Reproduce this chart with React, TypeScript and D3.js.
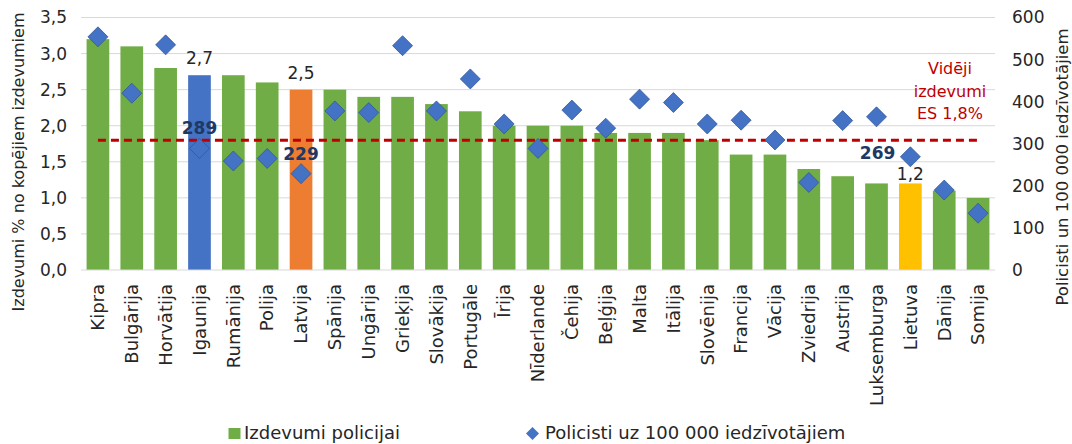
import React from "react";
import * as d3 from "d3";

const countries = ["Kipra","Bulgārija","Horvātija","Igaunija","Rumānija","Polija","Latvija","Spānija","Ungārija","Grieķija","Slovākija","Portugāle","Īrija","Nīderlande","Čehija","Beļģija","Malta","Itālija","Slovēnija","Francija","Vācija","Zviedrija","Austrija","Luksemburga","Lietuva","Dānija","Somija"];
const spending = [3.2,3.1,2.8,2.7,2.7,2.6,2.5,2.5,2.4,2.4,2.3,2.2,2.0,2.0,2.0,1.9,1.9,1.9,1.8,1.6,1.6,1.4,1.3,1.2,1.2,1.1,1.0];
const police = [554,420,535,289,259,265,229,378,374,533,378,454,347,289,380,337,406,398,347,356,309,208,355,364,269,190,135];
const leftTicks = [0,0.5,1,1.5,2,2.5,3,3.5];
const rightTicks = [0,100,200,300,400,500,600];
const euAverage = 1.8;
const barLabels: Record<string, string> = { Igaunija: "2,7", Latvija: "2,5", Lietuva: "1,2" };
const pointLabels: Record<string, string> = { Igaunija: "289", Latvija: "229", Lietuva: "269" };
const barColors: Record<string, string> = { Igaunija: "#4472C4", Latvija: "#ED7D31", Lietuva: "#FFC000" };

const FONT = "'DejaVu Sans', Verdana, sans-serif";

export default function App() {
  const W = 1072, H = 444;
  const left = 81, right = 995, top = 17.5, bottom = 270;
  const x = d3.scaleBand<string>().domain(countries).range([left, right]).paddingInner(0.33).paddingOuter(0.165);
  const yL = d3.scaleLinear().domain([0, 3.5]).range([bottom, top]);
  const yR = d3.scaleLinear().domain([0, 600]).range([bottom, top]);
  const fmt = (v: number) => d3.format(".1f")(v).replace(".", ",");
  const cx = (c: string) => (x(c) as number) + x.bandwidth() / 2;
  const diamond = (px: number, py: number, r: number) => `M${px},${py - r}L${px + r},${py}L${px},${py + r}L${px - r},${py}Z`;
  const avgY = yL(euAverage);

  return (
    <svg width={W} height={H} style={{ position: "absolute", left: 0, top: 0, background: "#fff" }} fontFamily={FONT}>
      {leftTicks.map((t) => (
        <g key={t}>
          {t > 0 && <line x1={left} x2={right} y1={yL(t)} y2={yL(t)} stroke="#D9D9D9" strokeWidth={1} />}
          <text x={67} y={yL(t)} dy="0.35em" textAnchor="end" fontSize={17} fill="#262626">{fmt(t)}</text>
        </g>
      ))}
      {rightTicks.map((t) => (
        <text key={t} x={1012} y={yR(t)} dy="0.35em" textAnchor="start" fontSize={17} fill="#262626">{t}</text>
      ))}
      {countries.map((c, i) => (
        <rect key={c} x={x(c)} y={yL(spending[i])} width={x.bandwidth()} height={bottom - yL(spending[i])} fill={barColors[c] || "#70AD47"} />
      ))}
      <line x1={left} x2={right} y1={bottom} y2={bottom} stroke="#D9D9D9" strokeWidth={1} />
      <line x1={cx(countries[0])} x2={cx(countries[countries.length - 1])} y1={avgY} y2={avgY} stroke="#C00000" strokeWidth={3} strokeDasharray="8,5" />
      {countries.map((c, i) => (
        <path key={c} d={diamond(cx(c), yR(police[i]), 10)} fill="#4472C4" stroke="#2F5597" strokeWidth={0.75} />
      ))}
      {countries.map((c, i) => barLabels[c] ? (
        <text key={c} x={cx(c)} y={c === "Lietuva" ? yL(spending[i]) - 3 : yL(spending[i]) - 11} textAnchor="middle" fontSize={17} fill="#262626">{barLabels[c]}</text>
      ) : null)}
      {countries.map((c, i) => pointLabels[c] ? (
        c === "Lietuva" ? (
          <text key={c} x={cx(c) - 15} y={yR(police[i]) + 2} textAnchor="end" fontSize={17} fontWeight="bold" fill="#203864">{pointLabels[c]}</text>
        ) : (
          <text key={c} x={cx(c)} y={yR(police[i]) - 14} textAnchor="middle" fontSize={17} fontWeight="bold" fill="#203864">{pointLabels[c]}</text>
        )
      ) : null)}
      <text textAnchor="middle" fontSize={16} fill="#C00000">
        <tspan x={950} y={74}>Vidēji</tspan>
        <tspan x={950} y={96.5}>izdevumi</tspan>
        <tspan x={950} y={119}>ES 1,8%</tspan>
      </text>
      {countries.map((c) => (
        <text key={c} transform={`translate(${cx(c)},${bottom + 14}) rotate(-90)`} textAnchor="end" dy="0.35em" fontSize={18} fill="#262626">{c}</text>
      ))}
      <text transform={`translate(18,162) rotate(-90)`} textAnchor="middle" dy="0.35em" fontSize={16} fill="#262626">Izdevumi % no kopējiem izdevumiem</text>
      <text transform={`translate(1062,167) rotate(-90)`} textAnchor="middle" dy="0.35em" fontSize={16.5} fill="#262626">Policisti un 100 000 iedzīvotājiem</text>
      <rect x={228.5} y={428} width={12} height={11} fill="#70AD47" />
      <text x={244} y={439} fontSize={18} fill="#262626">Izdevumi policijai</text>
      <path d={diamond(532.5, 433.5, 6.5)} fill="#4472C4" />
      <text x={545} y={439} fontSize={18} fill="#262626">Policisti uz 100 000 iedzīvotājiem</text>
    </svg>
  );
}
